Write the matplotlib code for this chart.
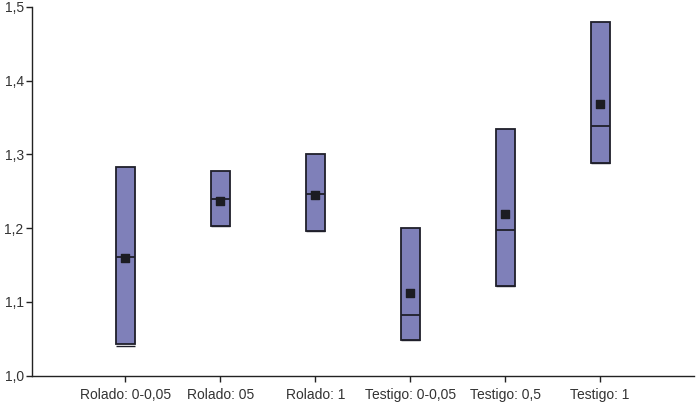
import matplotlib
matplotlib.use("Agg")
import matplotlib.pyplot as plt
import numpy as np
from matplotlib.ticker import FuncFormatter

categories = ["Rolado: 0-0,05", "Rolado: 05", "Rolado: 1",
              "Testigo: 0-0,05", "Testigo: 0,5", "Testigo: 1"]
box_low = [1.043, 1.203, 1.196, 1.048, 1.122, 1.288]
box_high = [1.283, 1.278, 1.300, 1.200, 1.334, 1.479]
medians = [1.161, 1.239, 1.247, 1.082, 1.197, 1.339]
means = [1.160, 1.237, 1.245, 1.112, 1.219, 1.368]
whisker_low = [1.040, 1.203, 1.196, 1.048, 1.122, 1.288]

plt.rcParams['font.family'] = ['Liberation Sans', 'DejaVu Sans']

fig = plt.figure(figsize=(7.0, 4.04), dpi=100)
ax = fig.add_axes([32/700, 1 - 375.7/404, 662/700, (375.7 - 7)/404])

x = np.arange(len(categories))
w = 0.2
fill = '#7f80b9'
edge = '#1f1f2a'

ax.bar(x, np.array(box_high) - np.array(box_low), bottom=box_low, width=w,
       color=fill, edgecolor=edge, linewidth=1.3, zorder=2)
ax.hlines(medians, x - w/2, x + w/2, colors=edge, linewidth=1.3, zorder=3)
ax.hlines(whisker_low, x - w/2, x + w/2, colors=edge, linewidth=1.0, zorder=3)
ax.scatter(x, means, marker='s', s=30, color='#1c1c22', zorder=4)

ax.set_xlim(-0.985, 5.99)
ax.set_ylim(1.0, 1.5)
ax.set_yticks([1.0, 1.1, 1.2, 1.3, 1.4, 1.5])
ax.yaxis.set_major_formatter(FuncFormatter(lambda v, p: f"{v:.1f}".replace('.', ',')))
ax.set_xticks(x)
ax.set_xticklabels(categories)

for s in ['top', 'right']:
    ax.spines[s].set_visible(False)
for s in ['left', 'bottom']:
    ax.spines[s].set_color('#222222')
    ax.spines[s].set_linewidth(1.0)

ax.tick_params(axis='both', direction='out', length=4, width=1.0, color='#222222',
               labelsize=10, labelcolor='#333333')
ax.tick_params(axis='y', pad=2)
ax.tick_params(axis='x', pad=5)

fig.savefig("out.png", dpi=100)
